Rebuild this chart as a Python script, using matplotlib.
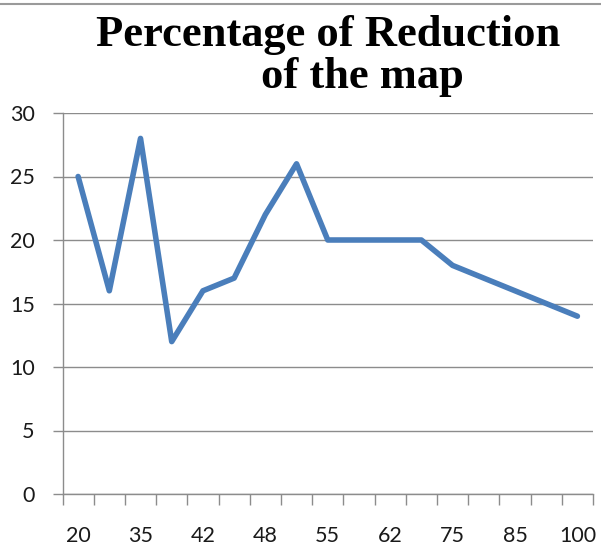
import matplotlib.pyplot as plt
from matplotlib.ticker import MultipleLocator, FixedLocator

# data (17 categories, only every other one is labelled)
categories = ['20', '30', '35', '40', '42', '45', '48', '50', '55',
              '60', '62', '70', '75', '80', '85', '90', '100']
reduction = [25, 16, 28, 12, 16, 17, 22, 26, 20, 20, 20, 20, 18, 17, 16, 15, 14]

fig = plt.figure(figsize=(6.01, 5.47), dpi=100)
ax = fig.add_axes([62.5 / 601, 1 - 494 / 547, (593 - 62.5) / 601, (494 - 113) / 547])

x = list(range(len(categories)))
ax.plot(x, reduction, color='#4A7EBB', linewidth=4.0, solid_capstyle='round',
        solid_joinstyle='round', zorder=3)

ax.set_xlim(-0.5, len(categories) - 0.5)
ax.set_ylim(0, 30)

# y axis
ax.yaxis.set_major_locator(MultipleLocator(5))
ax.grid(axis='y', color='#8C8C8C', linewidth=1.0)
ax.tick_params(axis='y', length=7, width=1, color='#8C8C8C', pad=13,
               labelsize=15.5, labelcolor='#1A1A1A')

# x axis: ticks on category boundaries, labels on every other category
ax.set_xticks(x[::2])
ax.set_xticklabels(categories[::2])
ax.xaxis.set_minor_locator(FixedLocator([i - 0.5 for i in range(len(categories) + 1)]))
ax.tick_params(axis='x', which='major', length=0, pad=23, labelsize=15.5, labelcolor='#1A1A1A')
ax.tick_params(axis='x', which='minor', length=8, width=1, color='#8C8C8C')

for lab in ax.get_xticklabels() + ax.get_yticklabels():
    lab.set_family('Lato')

for side in ['top', 'right']:
    ax.spines[side].set_visible(False)
for side in ['left', 'bottom']:
    ax.spines[side].set_color('#8C8C8C')
    ax.spines[side].set_linewidth(1.0)

# title in two lines, like the original
fig.text(328 / 601, 1 - 35 / 547, 'Percentage of Reduction', ha='center', va='center',
         family='Liberation Serif', weight='bold', fontsize=32)
fig.text(362 / 601, 1 - 77 / 547, 'of the map', ha='center', va='center',
         family='Liberation Serif', weight='bold', fontsize=32)

# thin gray border line at the top of the image
fig.add_artist(plt.Line2D([0, 1], [1 - 3.5 / 547, 1 - 3.5 / 547], color='#9A9A9A', linewidth=1.5))

fig.savefig('out.png', dpi=100)
